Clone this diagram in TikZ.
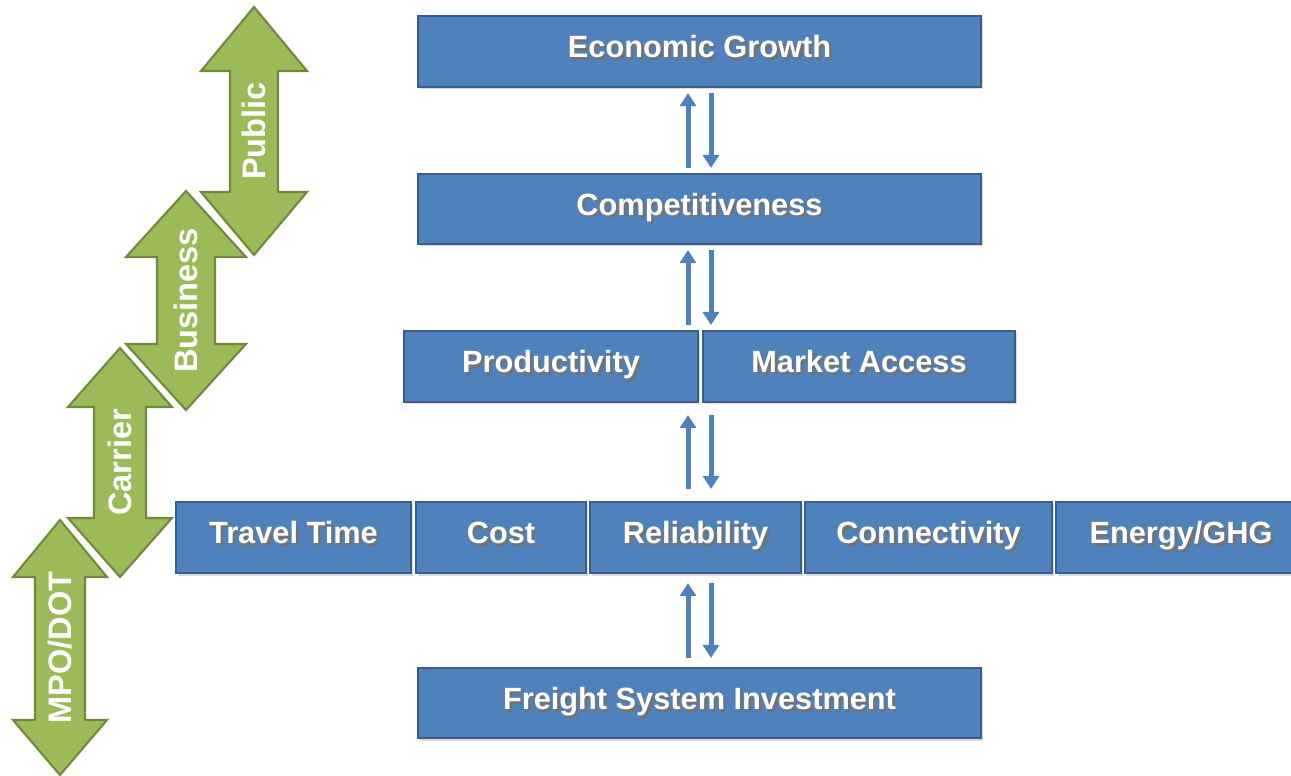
\documentclass[tikz,border=0pt]{standalone}
\usepackage{fontspec}
\setmainfont{Liberation Sans}
\usetikzlibrary{arrows.meta,shadows,positioning}
\definecolor{boxblue}{HTML}{4F81BD}
\definecolor{boxedge}{HTML}{385D8A}
\definecolor{leafgreen}{HTML}{9BBB59}
\definecolor{leafedge}{HTML}{71893F}
% white label with a dark offset copy behind it
\newcommand{\shadowtext}[1]{\makebox[0pt][l]{\kern0.05cm\raisebox{-0.05cm}{\color{black!55}#1}}#1}
\tikzset{
	level/.style={rectangle,draw=boxedge,line width=1.2pt,fill=boxblue,text=white,
		font=\fontsize{17.5}{20}\selectfont\bfseries,inner sep=0pt,
		text height=0.44cm,text depth=0.18cm,
		drop shadow={shadow xshift=0.03cm,shadow yshift=-0.05cm,opacity=0.3}},
	flow/.style={line width=0.1cm,color=boxblue,-{Triangle[length=0.26cm,width=0.32cm]}},
	actor/.style={draw=leafedge,line width=1.2pt,fill=leafgreen,line join=miter},
	actortext/.style={rotate=90,text=white,font=\fontsize{18.5}{22}\selectfont\bfseries}
}
\begin{document}
\begin{tikzpicture}[x=0.02cm,y=-0.02cm]
	\useasboundingbox (0,0) rectangle (1291,776);
	% Stakeholder double arrows, stepping down to the left
	\foreach \i/\cx/\ta/\ha/\hb/\tb/\hw/\sw/\txt in {
		1/254/7/71/192/255/53/24/Public,
		2/186/191/257/344/410/60/29/Business,
		3/120/348/407/518/577/52/26/Carrier,
		4/60/520/577/720/775/47/25/{MPO/DOT}} {
		\draw[actor] (\cx,\ta) -- (\cx+\hw,\ha) -- (\cx+\sw,\ha) -- (\cx+\sw,\hb)
			-- (\cx+\hw,\hb) -- (\cx,\tb) -- (\cx-\hw,\hb) -- (\cx-\sw,\hb)
			-- (\cx-\sw,\ha) -- (\cx-\hw,\ha) -- cycle;
		\node[actortext] (a\i) at (\cx,{(\ta+\tb)/2}) {\txt};
	}
	% Levels of the chain, from investment up to growth
	\foreach \name/\xa/\xb/\ya/\yb/\txt in {
		econ/418/981/16/87/Economic Growth,
		comp/418/981/174/244/Competitiveness,
		prod/404/698/331/402/Productivity,
		mkt/703/1015/331/402/Market Access,
		tt/176/411/502/573/Travel Time,
		cost/416/586/502/573/Cost,
		rel/590/801/502/573/Reliability,
		conn/805/1052/502/573/Connectivity,
		ghg/1056/1306/502/573/{Energy/GHG},
		fsi/418/981/668/738/Freight System Investment} {
		\pgfmathsetmacro\w{(\xb-\xa)*0.02}
		\pgfmathsetmacro\h{(\yb-\ya)*0.02}
		\node[level,minimum width=\w cm,minimum height=\h cm] (\name)
			at ({(\xa+\xb)/2},{(\ya+\yb)/2}) {\shadowtext{\txt}};
	}
	% Two-way links between neighbouring levels
	\coordinate (upx) at (688,0);
	\coordinate (dnx) at (711,0);
	\foreach \lo/\hi/\gap in {comp/econ/5, prod/comp/5, rel/prod/12, fsi/rel/9} {
		\pgfmathsetmacro\sh{\gap*0.02}
		\draw[flow,shorten <=\sh cm,shorten >=\sh cm] (\lo.north -| upx) -- (\hi.south -| upx);
		\draw[flow,shorten <=\sh cm,shorten >=\sh cm] (\hi.south -| dnx) -- (\lo.north -| dnx);
	}
\end{tikzpicture}
\end{document}
